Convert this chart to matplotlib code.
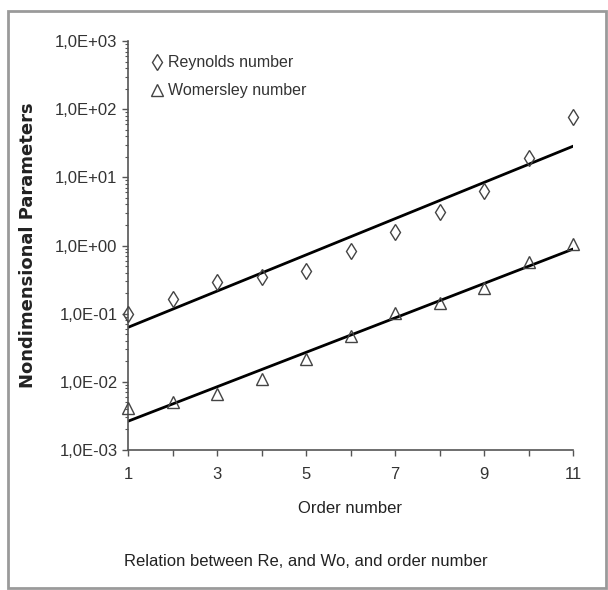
import numpy as np
import matplotlib
matplotlib.use('Agg')
import matplotlib.pyplot as plt
from matplotlib.ticker import LogLocator, FuncFormatter, NullFormatter
from matplotlib.patches import Rectangle

# data
order = [1, 2, 3, 4, 5, 6, 7, 8, 9, 10, 11]
reynolds = [0.099, 0.166, 0.288, 0.342, 0.42, 0.82, 1.57, 3.06, 6.3, 19.5, 77.0]
womersley = [0.0042, 0.0051, 0.0066, 0.011, 0.0216, 0.0475, 0.104, 0.142, 0.239, 0.57, 1.06]
xtick_labels = ['1', '', '3', '', '5', '', '7', '', '9', '', '11']

plt.rcParams['font.family'] = ['Liberation Sans', 'DejaVu Sans']

fig = plt.figure(figsize=(6.08, 5.90), dpi=100)
ax = fig.add_axes([128/608, 1-450/590, (573-128)/608, (450-41)/590])

x = np.array(order, dtype=float)

# exponential trend lines (fit in log space, like excel)
for vals in (reynolds, womersley):
    k, b = np.polyfit(x, np.log10(vals), 1)
    ax.plot(x, 10 ** (k * x + b), color='black', lw=2, zorder=2)

ax.plot(x, reynolds, linestyle='none', marker='d', markersize=8,
        markerfacecolor='none', markeredgecolor='#444444', markeredgewidth=1,
        label='Reynolds number', zorder=3, clip_on=False)
ax.plot(x, womersley, linestyle='none', marker='^', markersize=8,
        markerfacecolor='none', markeredgecolor='#444444', markeredgewidth=1,
        label='Womersley number', zorder=3, clip_on=False)

ax.set_yscale('log')
ax.set_ylim(1e-3, 1e3)
ax.set_xlim(1, 11)
ax.set_xticks(order)
ax.set_xticklabels(xtick_labels)
ax.yaxis.set_major_locator(LogLocator(base=10, numticks=10))
ax.yaxis.set_minor_locator(LogLocator(base=10, subs=np.arange(2, 10), numticks=10))
ax.yaxis.set_minor_formatter(NullFormatter())
ax.yaxis.set_major_formatter(FuncFormatter(lambda v, p: ('%.1E' % v).replace('.', ',')))

for s in ('top', 'right'):
    ax.spines[s].set_visible(False)
for s in ('left', 'bottom'):
    ax.spines[s].set_color('#555555')
    ax.spines[s].set_linewidth(1.2)
ax.tick_params(axis='both', which='major', colors='#555555', labelcolor='#333333',
               labelsize=12, length=4, width=1)
ax.tick_params(axis='y', which='minor', colors='#555555', length=2.5, width=0.8)
ax.tick_params(axis='x', pad=8)

ax.set_xlabel('Order number', fontsize=12, color='#222222', labelpad=14)

leg = ax.legend(loc='upper left', bbox_to_anchor=(0.015, 1.0), frameon=False,
                fontsize=11.5, labelspacing=0.8, handletextpad=0.2,
                handlelength=1.0, labelcolor='#333333')

fig.text(28/608, 1-245/590, 'Nondimensional Parameters', rotation=90,
         ha='center', va='center', fontsize=13, fontweight='bold',
         family='DejaVu Sans', color='#222222')
fig.text(306/608, 1-562/590, 'Relation between Re, and Wo, and order number',
         ha='center', va='center', fontsize=12, color='#222222')

# grey frame around the whole picture
fig.patches.append(Rectangle((8/608, 1-588/590), 598/608, 577/590,
                             transform=fig.transFigure, fill=False,
                             edgecolor='#9a9a9a', lw=2))

plt.savefig('out.png', dpi=100)
